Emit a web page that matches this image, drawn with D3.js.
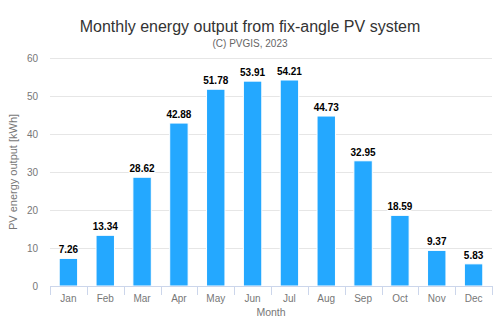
<!DOCTYPE html>
<html>
<head>
<meta charset="utf-8">
<script src="https://cdn.jsdelivr.net/npm/d3@7"></script>
<style>
  body { margin: 0; background: #fff; }
  svg { font-family: "Liberation Sans", Arial, sans-serif; }
</style>
</head>
<body>
<svg id="chart"></svg>
<script>
const months = ['Jan', 'Feb', 'Mar', 'Apr', 'May', 'Jun', 'Jul', 'Aug', 'Sep', 'Oct', 'Nov', 'Dec'];
const output = [7.26, 13.34, 28.62, 42.88, 51.78, 53.91, 54.21, 44.73, 32.95, 18.59, 9.37, 5.83];
const yTicks = [0, 10, 20, 30, 40, 50, 60];

const W = 500, H = 328;
const margin = {top: 58, right: 8, bottom: 42, left: 50};
const width = W - margin.left - margin.right;
const height = H - margin.top - margin.bottom;

const svg = d3.select('#chart')
  .attr('width', W)
  .attr('height', H);

svg.append('text')
  .attr('x', W / 2).attr('y', 32)
  .attr('text-anchor', 'middle')
  .style('font-size', '16px')
  .style('fill', '#333')
  .text('Monthly energy output from fix-angle PV system');

svg.append('text')
  .attr('x', W / 2).attr('y', 47)
  .attr('text-anchor', 'middle')
  .style('font-size', '10px')
  .style('fill', '#666')
  .text('(C) PVGIS, 2023');

const g = svg.append('g')
  .attr('transform', `translate(${margin.left}, ${margin.top})`);

const x = d3.scaleBand()
  .domain(months)
  .range([0, width])
  .paddingInner(0.5)
  .paddingOuter(0.25);

const y = d3.scaleLinear()
  .domain([0, 60])
  .range([height, 0]);

// grid lines
g.append('g')
  .selectAll('line')
  .data(yTicks.filter(d => d > 0))
  .enter()
  .append('line')
  .attr('x1', 0).attr('x2', width)
  .attr('y1', d => y(d) + 0.5).attr('y2', d => y(d) + 0.5)
  .attr('stroke', '#e6e6e6');

// y axis labels
const yAxis = g.append('g')
  .call(d3.axisLeft(y).tickValues(yTicks).tickSize(0).tickPadding(12));
yAxis.select('.domain').remove();
yAxis.selectAll('text')
  .style('font-size', '10px')
  .style('fill', '#777')
  .style('font-family', '"Liberation Sans", Arial, sans-serif');

// bars
g.selectAll('.bar')
  .data(output)
  .enter()
  .append('rect')
  .attr('x', (d, i) => x(months[i]))
  .attr('y', d => y(d))
  .attr('width', x.bandwidth())
  .attr('height', d => height - y(d))
  .attr('fill', '#24a8ff')
  .attr('stroke', '#fff')
  .attr('stroke-width', 1);

// value labels
g.selectAll('.val')
  .data(output)
  .enter()
  .append('text')
  .attr('x', (d, i) => x(months[i]) + x.bandwidth() / 2)
  .attr('y', d => y(d) - 5)
  .attr('text-anchor', 'middle')
  .style('font-size', '10px')
  .style('font-weight', 'bold')
  .style('fill', '#000')
  .style('paint-order', 'stroke')
  .style('stroke', '#fff')
  .style('stroke-width', '2px')
  .text(d => d.toFixed(2));

// x axis: ticks on category boundaries
const step = width / months.length;
const xAxis = g.append('g')
  .attr('transform', `translate(0, ${height})`);

xAxis.append('line')
  .attr('x1', 0).attr('x2', width)
  .attr('y1', 0.5).attr('y2', 0.5)
  .attr('stroke', '#ccd6eb');

xAxis.selectAll('.tick')
  .data(d3.range(months.length + 1))
  .enter()
  .append('line')
  .attr('x1', i => Math.round(i * step) + 0.5)
  .attr('x2', i => Math.round(i * step) + 0.5)
  .attr('y1', 0).attr('y2', 9)
  .attr('stroke', '#ccd6eb');

xAxis.selectAll('.lbl')
  .data(months)
  .enter()
  .append('text')
  .attr('x', d => x(d) + x.bandwidth() / 2)
  .attr('y', 16)
  .attr('text-anchor', 'middle')
  .style('font-size', '10px')
  .style('fill', '#777')
  .text(d => d);

g.append('text')
  .attr('x', width / 2)
  .attr('y', height + 30)
  .attr('text-anchor', 'middle')
  .style('font-size', '10.5px')
  .style('fill', '#777')
  .text('Month');

g.append('text')
  .attr('transform', `translate(${-33}, ${height / 2}) rotate(-90)`)
  .attr('text-anchor', 'middle')
  .style('font-size', '11px')
  .style('fill', '#777')
  .text('PV energy output [kWh]');
</script>
</body>
</html>
